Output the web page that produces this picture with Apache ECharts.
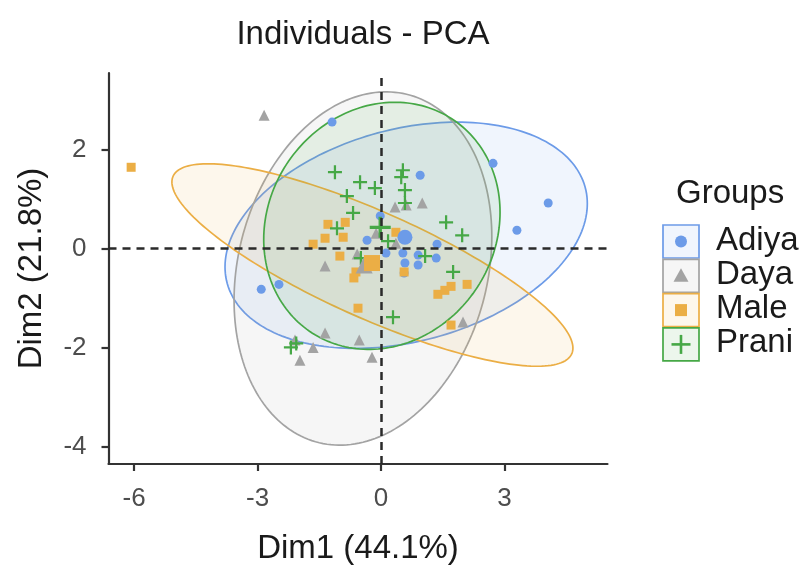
<!DOCTYPE html>
<html><head><meta charset="utf-8">
<script src="https://cdn.jsdelivr.net/npm/echarts@6/dist/echarts.min.js"></script>
<style>html,body{margin:0;padding:0;background:#fff}#c{width:806px;height:565px}</style>
</head><body><div id="c"></div>
<script>
const groups = ['Adiya', 'Daya', 'Male', 'Prani'];
const colors = ['#6C9BE8', '#A3A3A3', '#EBAE45', '#46A846'];

const adiyaX = [-1.19, 4.06, 2.72, 3.30, -2.91, -2.48, 0.95, -0.02, -0.34, 0.12, 0.53, 0.58, 0.56, 0.90, 0.90, 1.34, 1.36];
const adiyaY = [2.55, 0.92, 1.72, 0.37, -0.82, -0.72, 1.48, 0.66, 0.17, -0.09, -0.09, -0.29, -0.49, -0.13, -0.33, -0.19, 0.09];

const dayaX = [-2.84, 0.34, 0.61, 1.00, -0.12, 0.36, -0.58, -1.36, -1.36, -0.53, -0.22, -1.97, -2.09, -1.65, 1.99];
const dayaY = [2.69, 0.84, 0.88, 0.92, 0.31, 0.11, -0.11, -0.35, -1.70, -1.84, -2.19, -2.25, -1.84, -1.99, -1.48];

const maleX = [-6.07, -1.29, -0.87, -1.36, -0.92, -1.65, -1.00, 0.36, 0.56, -0.61, -0.66, -0.56, 1.38, 1.55, 1.70, 2.09, 1.70];
const maleY = [1.64, 0.49, 0.53, 0.21, 0.23, 0.09, -0.15, 0.33, -0.47, -0.47, -0.59, -1.20, -0.92, -0.84, -0.76, -0.72, -1.54];

const praniX = [-1.12, -0.51, -0.15, 0.53, 0.49, 0.58, 0.58, -0.83, -0.68, -1.07, 0.17, 1.58, 1.97, 1.07, 1.75, 0.29, -0.49, -2.19, -2.06];
const praniY = [1.54, 1.34, 1.22, 1.58, 1.44, 1.18, 0.92, 1.06, 0.72, 0.41, 0.15, 0.53, 0.27, -0.15, -0.47, -1.38, -0.19, -1.99, -1.91];

const centroidX = [0.58, -0.41, -0.22, -0.02];
const centroidY = [0.23, -0.33, -0.29, 0.43];

const ellipseCX = [0.61, -0.44, -0.21, 0.02];
const ellipseCY = [0.27, -0.40, -0.33, 0.46];
const ellipseSX = [4.40, 3.13, 4.87, 2.87];
const ellipseSY = [2.28, 3.56, 2.04, 2.49];
const ellipseR = [0.28, 0.18, -0.82, 0.11];

const xTicks = [-6, -3, 0, 3];
const yTicks = [-4, -2, 0, 2];

const FONT = '"Liberation Sans", Arial, sans-serif';
const crossPath = 'path://M42,0 H58 V42 H100 V58 H58 V100 H42 V58 H0 V42 H42 Z';
const symbols = ['circle', 'triangle', 'rect', crossPath];
const pointSizes = [9, 11, 9, 14];
const centroidSizes = [15, 17, 16, 21];
const groupX = [adiyaX, dayaX, maleX, praniX];
const groupY = [adiyaY, dayaY, maleY, praniY];

function rgba(hex, a) {
  const n = parseInt(hex.slice(1), 16);
  return 'rgba(' + (n >> 16) + ',' + ((n >> 8) & 255) + ',' + (n & 255) + ',' + a + ')';
}

const series = [];
groups.forEach((g, i) => {
  series.push({
    type: 'custom', name: g + ' ellipse', silent: true, clip: true,
    data: [[i, 0]],
    renderItem: (params, api) => {
      const k = api.value(0);
      const pts = [];
      const s = Math.sqrt(1 - ellipseR[k] * ellipseR[k]);
      for (let j = 0; j <= 200; j++) {
        const t = 2 * Math.PI * j / 200;
        const ex = ellipseCX[k] + ellipseSX[k] * Math.cos(t);
        const ey = ellipseCY[k] + ellipseSY[k] * (ellipseR[k] * Math.cos(t) + s * Math.sin(t));
        pts.push(api.coord([ex, ey]));
      }
      return {type: 'polygon', shape: {points: pts},
        style: {fill: rgba(colors[k], 0.1), stroke: colors[k], lineWidth: 1.7}};
    }
  });
});
series.push({
  type: 'scatter', data: [], silent: true,
  markLine: {
    silent: true, symbol: 'none', animation: false,
    label: {show: false},
    lineStyle: {type: [8, 6], color: '#2a2a2a', width: 2.5},
    data: [{xAxis: 0}, {yAxis: 0}]
  }
});
groups.forEach((g, i) => {
  series.push({
    type: 'scatter', name: g, symbol: symbols[i], symbolSize: pointSizes[i],
    itemStyle: {color: colors[i], opacity: 1},
    data: groupX[i].map((x, j) => [x, groupY[i][j]])
  });
});
groups.forEach((g, i) => {
  series.push({
    type: 'scatter', name: g + ' mean', symbol: symbols[i], symbolSize: centroidSizes[i],
    itemStyle: {color: colors[i], opacity: 1},
    data: [[centroidX[i], centroidY[i]]]
  });
});

// legend drawn with graphic elements
const graphics = [];
graphics.push({type: 'text', left: 676, top: 177, style: {text: 'Groups', font: '33px ' + FONT, fill: '#1a1a1a'}});
groups.forEach((g, i) => {
  const top = 225 + i * 34.3;
  const cy = top + 16.5;
  graphics.push({type: 'rect', shape: {x: 663, y: top, width: 36, height: 33},
    style: {fill: rgba(colors[i], 0.1), stroke: colors[i], lineWidth: 1.7}});
  let sym;
  if (i === 0) sym = {type: 'circle', shape: {cx: 681, cy: cy, r: 6}, style: {fill: colors[i]}};
  else if (i === 1) sym = {type: 'polygon', shape: {points: [[681, cy - 7.5], [688.5, cy + 6], [673.5, cy + 6]]}, style: {fill: colors[i]}};
  else if (i === 2) sym = {type: 'rect', shape: {x: 675, y: cy - 6, width: 12, height: 12}, style: {fill: colors[i]}};
  else sym = {type: 'group', children: [
    {type: 'rect', shape: {x: 671.5, y: cy - 1.3, width: 19, height: 2.6}, style: {fill: colors[i]}},
    {type: 'rect', shape: {x: 679.7, y: cy - 9.5, width: 2.6, height: 19}, style: {fill: colors[i]}}
  ]};
  graphics.push(sym);
  graphics.push({type: 'text', left: 716, top: cy - 17.5, style: {text: g, font: '33px ' + FONT, fill: '#1a1a1a'}});
});

const chart = echarts.init(document.getElementById('c'), null, {renderer: 'canvas'});
chart.setOption({
  animation: false,
  backgroundColor: '#fff',
  title: {
    text: 'Individuals - PCA', left: 358, top: 13, textAlign: 'center',
    textStyle: {fontFamily: FONT, fontSize: 33, fontWeight: 'normal', color: '#1a1a1a'}
  },
  grid: {left: 108.5, right: 198.5, top: 73, bottom: 101, containLabel: false, outerBoundsMode: 'none'},
  xAxis: {
    type: 'value', min: -6.62, max: 5.50,
    name: 'Dim1 (44.1%)', nameLocation: 'middle', nameGap: 68,
    nameTextStyle: {fontFamily: FONT, fontSize: 33, color: '#1a1a1a'},
    splitLine: {show: false},
    axisLine: {show: true, onZero: false, lineStyle: {color: '#333', width: 2.2}},
    axisTick: {show: true, length: 7, customValues: xTicks, lineStyle: {color: '#333', width: 2.2}},
    axisLabel: {customValues: xTicks, margin: 22, fontFamily: FONT, fontSize: 26, color: '#4D4D4D'}
  },
  yAxis: {
    type: 'value', min: -4.34, max: 3.54,
    name: 'Dim2 (21.8%)', nameLocation: 'middle', nameGap: 60, nameRotate: 90,
    nameTextStyle: {fontFamily: FONT, fontSize: 33, color: '#1a1a1a'},
    splitLine: {show: false},
    axisLine: {show: true, onZero: false, lineStyle: {color: '#333', width: 2.2}},
    axisTick: {show: true, length: 7, customValues: yTicks, lineStyle: {color: '#333', width: 2.2}},
    axisLabel: {customValues: yTicks, margin: 22, fontFamily: FONT, fontSize: 26, color: '#4D4D4D'}
  },
  graphic: graphics,
  series: series
});
</script>
</body></html>
